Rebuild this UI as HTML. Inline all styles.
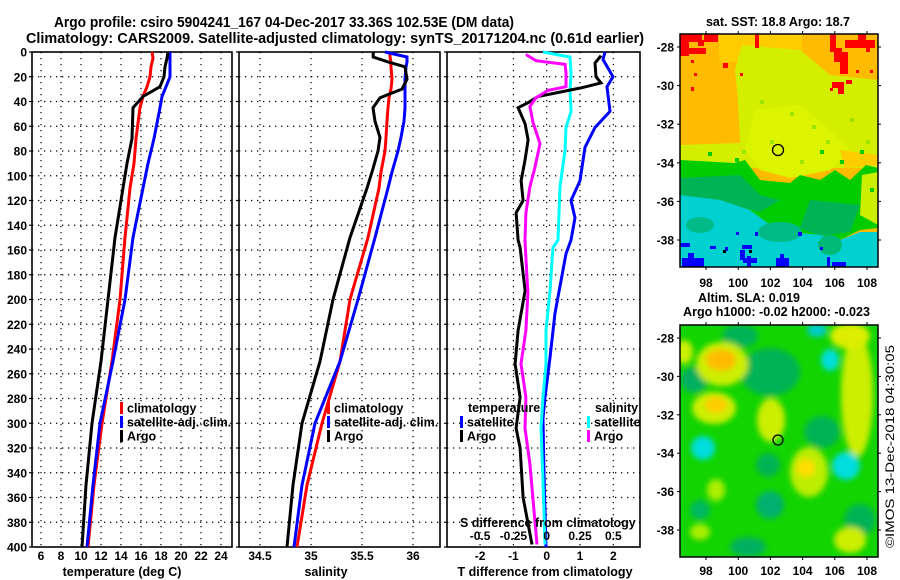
<!DOCTYPE html>
<html><head><meta charset="utf-8"><style>
html,body{margin:0;padding:0;background:#fff;}
svg{display:block;font-family:"Liberation Sans",Arial,sans-serif;font-weight:bold;}
</style></head><body>
<svg id="c" width="900" height="580" viewBox="0 0 900 580" xmlns="http://www.w3.org/2000/svg">
<defs>
<filter id="blur" x="-30%" y="-30%" width="160%" height="160%"><feGaussianBlur stdDeviation="3"/></filter>
<clipPath id="m1clip"><rect x="680" y="34" width="198" height="233"/></clipPath>
<clipPath id="m2clip"><rect x="680" y="325" width="198" height="232"/></clipPath>
</defs>
<text x="54" y="27" font-size="14.5" textLength="460" lengthAdjust="spacingAndGlyphs">Argo profile: csiro 5904241_167 04-Dec-2017 33.36S 102.53E (DM data)</text>
<text x="26" y="43" font-size="14.5" textLength="618" lengthAdjust="spacingAndGlyphs">Climatology: CARS2009. Satellite-adjusted climatology: synTS_20171204.nc (0.61d earlier)</text>

<!-- Map 1: SST -->
<g clip-path="url(#m1clip)">
<rect x="680" y="34" width="198" height="233" fill="#ffbb00"/>
<rect x="719" y="34" width="83" height="28" fill="#ffcc00"/>
<polygon fill="#d4ee00" points="742,45 800,50 830,75 878,80 878,168 680,168 680,145 740,143 738,100 735,70"/>
<polygon fill="#ddf400" points="755,110 800,105 830,130 850,150 830,170 790,178 760,170 745,150"/>
<polygon fill="#ffcc00" points="840,150 878,155 878,165 845,168"/>
<polygon fill="#00cc00" points="680,160 735,163 745,160 760,180 790,183 800,175 820,180 835,170 850,180 866,165 878,168 878,228 860,230 840,240 820,235 790,232 770,225 750,210 720,200 680,197"/>
<polygon fill="#00b455" points="680,178 740,175 760,195 780,200 760,212 720,202 680,196"/>
<polygon fill="#00b455" points="810,200 860,205 850,232 820,236 800,228"/>
<polygon fill="#ccee00" points="862,175 878,172 878,225 860,215"/>
<polygon fill="#00d0d0" points="680,195 720,200 750,210 770,225 790,232 820,235 840,240 860,232 878,232 878,267 680,267"/>
<ellipse cx="700" cy="225" rx="14" ry="8" fill="#00bb88"/>
<ellipse cx="780" cy="232" rx="22" ry="10" fill="#00bb88"/>
<ellipse cx="830" cy="245" rx="12" ry="10" fill="#00bb77"/>
<g fill="#99e600">
<rect x="760" y="100" width="4" height="4"/><rect x="790" y="112" width="4" height="4"/><rect x="812" y="125" width="4" height="4"/><rect x="770" y="140" width="4" height="4"/><rect x="826" y="140" width="4" height="4"/><rect x="800" y="160" width="4" height="4"/><rect x="742" y="150" width="4" height="4"/><rect x="850" y="118" width="4" height="4"/><rect x="866" y="140" width="4" height="4"/>
</g>
<g fill="#00cc00">
<rect x="820" y="150" width="4" height="4"/><rect x="840" y="160" width="4" height="4"/><rect x="860" y="150" width="4" height="4"/><rect x="735" y="158" width="4" height="4"/><rect x="708" y="152" width="4" height="4"/><rect x="870" y="188" width="4" height="4"/>
</g>
<g fill="#ff0000">
<rect x="680" y="34" width="22" height="8"/><rect x="680" y="40" width="9" height="16"/><rect x="686" y="48" width="20" height="6"/><rect x="704" y="34" width="14" height="8"/><rect x="698" y="40" width="6" height="6"/>
<rect x="755" y="34" width="4" height="14"/><rect x="691" y="60" width="3" height="3"/><rect x="723" y="63" width="5" height="5"/><rect x="694" y="73" width="3" height="3"/><rect x="740" y="73" width="3" height="3"/><rect x="691" y="87" width="3" height="4"/>
<rect x="830" y="34" width="6" height="18"/><rect x="834" y="48" width="8" height="14"/><rect x="840" y="52" width="8" height="22"/><rect x="845" y="40" width="30" height="8"/><rect x="858" y="34" width="8" height="6"/><rect x="866" y="46" width="4" height="6"/>
<rect x="832" y="82" width="12" height="6"/><rect x="838" y="84" width="6" height="10"/><rect x="846" y="80" width="6" height="4"/><rect x="830" y="88" width="3" height="3"/><rect x="856" y="70" width="3" height="3"/><rect x="870" y="70" width="3" height="3"/>
</g>
<g fill="#0000ff">
<rect x="680" y="243" width="10" height="4"/><rect x="682" y="258" width="22" height="9"/><rect x="688" y="253" width="6" height="5"/><rect x="710" y="246" width="6" height="3"/><rect x="725" y="247" width="3" height="4"/>
<rect x="742" y="245" width="10" height="4"/><rect x="740" y="250" width="5" height="10"/><rect x="743" y="258" width="14" height="5"/><rect x="747" y="256" width="4" height="11"/><rect x="736" y="232" width="3" height="3"/><rect x="755" y="232" width="3" height="4"/>
<rect x="776" y="258" width="13" height="9"/><rect x="780" y="254" width="4" height="5"/><rect x="798" y="232" width="4" height="4"/><rect x="820" y="247" width="3" height="3"/><rect x="827" y="257" width="3" height="10"/><rect x="832" y="262" width="14" height="5"/>
</g>
<rect x="723" y="250" width="3" height="3" fill="#000"/><rect x="749" y="250" width="3" height="3" fill="#000"/>
</g>
<rect x="680" y="34" width="198" height="233" fill="none" stroke="#000" stroke-width="1.5"/>
<circle cx="778" cy="150" r="5.5" fill="none" stroke="#000" stroke-width="1.3"/>
<text x="778" y="26" font-size="12.5" text-anchor="middle">sat. SST: 18.8 Argo: 18.7</text>

<!-- Map 2: SLA -->
<g clip-path="url(#m2clip)">
<rect x="680" y="325" width="198" height="232" fill="#11d400"/>
<g filter="url(#blur)">
<ellipse cx="770" cy="372" rx="30" ry="24" fill="#00b455"/>
<ellipse cx="740" cy="336" rx="18" ry="12" fill="#00b455"/>
<ellipse cx="694" cy="380" rx="14" ry="13" fill="#00b060"/>
<ellipse cx="770" cy="505" rx="14" ry="14" fill="#00b070"/>
<ellipse cx="748" cy="547" rx="18" ry="10" fill="#00b060"/>
<ellipse cx="822" cy="432" rx="18" ry="16" fill="#00b455"/>
<ellipse cx="768" cy="465" rx="12" ry="12" fill="#00b455"/>
<ellipse cx="860" cy="520" rx="16" ry="16" fill="#00b455"/>
<ellipse cx="700" cy="510" rx="10" ry="10" fill="#00b860"/>
<ellipse cx="722" cy="364" rx="26" ry="22" fill="#ccee00"/>
<ellipse cx="721" cy="360" rx="15" ry="11" fill="#ffbb00"/>
<ellipse cx="714" cy="408" rx="22" ry="16" fill="#ccee00"/>
<ellipse cx="716" cy="405" rx="11" ry="8" fill="#ffcc00"/>
<ellipse cx="684" cy="352" rx="9" ry="12" fill="#ccee00"/>
<ellipse cx="771" cy="420" rx="14" ry="22" fill="#ccee00"/>
<ellipse cx="857" cy="395" rx="16" ry="62" fill="#ccee00"/>
<ellipse cx="850" cy="336" rx="20" ry="13" fill="#ddee00"/>
<ellipse cx="809" cy="472" rx="19" ry="25" fill="#bbee00"/>
<ellipse cx="806" cy="468" rx="9" ry="9" fill="#ffdd00"/>
<ellipse cx="716" cy="490" rx="9" ry="11" fill="#aaee00"/>
<ellipse cx="850" cy="540" rx="16" ry="13" fill="#ccee00"/>
<ellipse cx="700" cy="532" rx="10" ry="8" fill="#aaee00"/>
<ellipse cx="703" cy="448" rx="12" ry="12" fill="#00dddd"/>
<ellipse cx="846" cy="466" rx="14" ry="14" fill="#00dddd"/>
<ellipse cx="830" cy="360" rx="9" ry="11" fill="#00dddd"/>
<ellipse cx="817" cy="330" rx="10" ry="7" fill="#00cccc"/>
</g>
</g>
<rect x="680" y="325" width="198" height="232" fill="none" stroke="#000" stroke-width="1.5"/>
<circle cx="778" cy="440" r="5" fill="none" stroke="#000" stroke-width="1.3"/>
<text x="698" y="302" font-size="12.5" textLength="102" lengthAdjust="spacingAndGlyphs">Altim. SLA: 0.019</text>
<text x="683" y="316" font-size="12.5" textLength="187" lengthAdjust="spacingAndGlyphs">Argo h1000: -0.02 h2000: -0.023</text>
<text transform="translate(894,548) rotate(-90)" font-size="12" font-weight="normal" textLength="203" lengthAdjust="spacingAndGlyphs">©IMOS 13-Dec-2018 04:30:05</text>

<g id="plots"></g>
</svg>
<script>
// ---------- data ----------
const tempDepths = [0,5,12,20,28,36,45,70,90,110,150,200,250,300,350,400];
const tempArgo   = [18.7,18.6,18.4,18.3,17.9,16.2,15.2,15.1,14.6,14.2,13.4,12.7,12.0,11.1,10.5,10.1];
const tempClim   = [17.1,17.2,17.0,16.9,16.6,16.2,15.9,15.5,15.3,14.9,14.4,13.9,13.1,12.1,11.3,10.7];
const tempSat    = [18.9,18.9,18.9,18.9,18.5,18.1,17.9,17.3,16.7,16.2,15.2,14.4,13.2,11.9,11.2,10.6];

const salDepths = [0,4,8,12,22,30,37,45,56,69,80,97,110,150,200,250,300,350,400];
const salArgo   = [35.61,35.61,35.755,35.922,35.941,35.892,35.676,35.608,35.627,35.676,35.657,35.598,35.549,35.382,35.216,35.088,34.912,34.824,34.765];
const salClim   = [35.775,35.775,35.784,35.784,35.794,35.784,35.765,35.755,35.745,35.735,35.725,35.686,35.667,35.559,35.382,35.284,35.108,34.961,34.863];
const salSat    = [35.725,35.941,35.941,35.931,35.922,35.922,35.922,35.922,35.912,35.882,35.853,35.794,35.755,35.627,35.461,35.284,35.039,34.912,34.833];

const dTSatDepths = [0,6,20,28,48,61,77,104,120,134,152,163,185,211,247,279,296,340,400];
const dTSat       = [1.75,1.69,1.99,1.81,1.90,1.45,1.15,1.00,0.73,0.85,0.73,0.58,0.43,0.25,0.10,-0.05,-0.11,-0.08,-0.02];
const dTArgoDepths = [3,9,20,25,29,36,41,45,58,71,87,104,120,130,152,158,193,225,252,279,304,320,360,398];
const dTArgo       = [1.63,1.45,1.48,1.63,1.03,-0.26,-0.56,-0.86,-0.65,-0.56,-0.65,-0.77,-0.71,-0.92,-0.86,-0.80,-0.65,-0.86,-0.95,-0.80,-0.92,-0.80,-0.71,-0.44];
const dSArgoDepths = [2,7,10,17,28,31,37,44,57,74,93,109,130,152,166,195,225,252,279,304,333,398];
const dSArgo       = [-0.156,-0.080,0.138,0.145,0.145,0.010,-0.080,-0.126,-0.103,-0.050,-0.088,-0.126,-0.156,-0.163,-0.156,-0.141,-0.156,-0.193,-0.156,-0.163,-0.126,-0.073];
const dSSatDepths = [0,4,17,31,48,61,79,109,152,158,193,225,252,279,304,347,398];
const dSSat       = [-0.028,0.175,0.183,0.175,0.183,0.145,0.138,0.100,0.085,0.047,0.025,-0.005,-0.005,-0.028,-0.043,-0.028,-0.013];

const depthTicks = [0,20,40,60,80,100,120,140,160,180,200,220,240,260,280,300,320,340,360,380,400];
const tempTicks = [6,8,10,12,14,16,18,20,22,24];
const salTicks = [34.5,35,35.5,36];
const salTickLabels = ["34.5","35","35.5","36"];
const dTTicks = [-2,-1,0,1,2];
const dSTicks = [-0.5,-0.25,0,0.25,0.5];
const dSTickLabels = ["-0.5","-0.25","0","0.25","0.5"];
const mapLatTicks = [-28,-30,-32,-34,-36,-38];
const mapLonTicks = [98,100,102,104,106,108];

// ---------- scales ----------
const NS="http://www.w3.org/2000/svg";
const root=document.getElementById('plots');
const yD = d => 52 + d*495/400;
const xT = t => 41 + (t-6)*10;
const xS = s => 260 + (s-34.5)*102;
const xdT = v => 546.7 + v*33.3;
const xdS = v => 546.7 + v*133.3;
const lat1 = l => 47 + (-28-l)*19.3;
const lat2 = l => 338 + (-28-l)*19.2;
const lonX = l => 706 + (l-98)*16.1;

function mk(tag, attrs, parent){const e=document.createElementNS(NS,tag);for(const k in attrs)e.setAttribute(k,attrs[k]);(parent||root).appendChild(e);return e;}
function txt(s,x,y,anchor,size,name){const e=mk('text',{x:x,y:y,'text-anchor':anchor,'font-size':size});e.textContent=s;


return e;}
function line(depths,vals,xf,color,name){
  const d=depths.map((dd,i)=>(i?'L':'M')+xf(vals[i]).toFixed(1)+','+yD(dd).toFixed(1)).join('');
  const p=mk('path',{d:d,fill:'none',stroke:color,'stroke-width':3,'stroke-linejoin':'miter'});
  
  
}

function panel(x0,x1,vticks,xf,labels,name){
  const g=mk('g',{});
  
  
  depthTicks.forEach(d=>{if(d>0&&d<400){const l=mk('line',{x1:x0,x2:x1,y1:yD(d),y2:yD(d),stroke:'#000','stroke-width':1.2,'stroke-dasharray':'1.3 4.7'},g);
    
    }
    mk('line',{x1:x0-3,x2:x0,y1:yD(d),y2:yD(d),stroke:'#000','stroke-width':1.2},g);});
  vticks.forEach((v,i)=>{const x=xf(v);const l=mk('line',{x1:x,x2:x,y1:52,y2:547,stroke:'#000','stroke-width':1.2,'stroke-dasharray':'1.3 4.7'},g);
    
    
    if(labels) txt(labels[i],x,560,'middle',12,'x-tick-label');});
  const r=mk('rect',{x:x0,y:52,width:x1-x0,height:495,fill:'none',stroke:'#000','stroke-width':1.6},g);
  
  
}
depthTicks.forEach(d=>txt(String(d),27,yD(d)+4.5,'end',12,'depth-tick-label'));

panel(32,232,tempTicks,xT,tempTicks.map(String),'temperature-panel');
panel(239,440,salTicks,xS,salTickLabels,'salinity-panel');
panel(447,640,dTTicks,xdT,dTTicks.map(String),'difference-panel');

line(tempDepths,tempClim,xT,'#ff0000','temperature-climatology-line');
line(tempDepths,tempSat,xT,'#0000ff','temperature-satellite-line');
line(tempDepths,tempArgo,xT,'#000000','temperature-argo-line');
line(salDepths,salClim,xS,'#ff0000','salinity-climatology-line');
line(salDepths,salSat,xS,'#0000ff','salinity-satellite-line');
line(salDepths,salArgo,xS,'#000000','salinity-argo-line');
line(dTSatDepths,dTSat,xdT,'#0000ff','t-diff-satellite-line');
line(dSSatDepths,dSSat,xdS,'#00ffff','s-diff-satellite-line');
line(dTArgoDepths,dTArgo,xdT,'#000000','t-diff-argo-line');
line(dSArgoDepths,dSArgo,xdS,'#ff00ff','s-diff-argo-line');

function leg(x,y,color,label,name){
  const r=mk('rect',{x:x,y:y-6,width:3,height:12,fill:color});
  
  
  txt(label,x+7,y+4.5,'start',12.5,name);
}
leg(120,408,'#ff0000','climatology','legend-climatology');
leg(120,422,'#0000ff','satellite-adj. clim.','legend-satellite-adj');
leg(120,436,'#000000','Argo','legend-argo');
leg(327,408,'#ff0000','climatology','legend-climatology');
leg(327,422,'#0000ff','satellite-adj. clim.','legend-satellite-adj');
leg(327,436,'#000000','Argo','legend-argo');
txt('temperature',468,412,'start',12.5,'legend-temperature-heading');
leg(460,422,'#0000ff','satellite','legend-t-satellite');
leg(460,436,'#000000','Argo','legend-t-argo');
txt('salinity',595,412,'start',12.5,'legend-salinity-heading');
leg(587,422,'#00ffff','satellite','legend-s-satellite');
leg(587,436,'#ff00ff','Argo','legend-s-argo');

txt('S difference from climatology',460,527,'start',12.5,'s-diff-axis-title');
dSTicks.forEach((v,i)=>txt(dSTickLabels[i],xdS(v),540,'middle',12,'s-diff-tick-label'));

txt('temperature (deg C)',122,576,'middle',12.5,'temperature-axis-title');
txt('salinity',326,576,'middle',12.5,'salinity-axis-title');
txt('T difference from climatology',545,576,'middle',12.5,'t-diff-axis-title');

[[lat1,34,267,287],[lat2,325,557,575]].forEach(([lf,top,bot,lab])=>{
  mapLatTicks.forEach(l=>{const y=lf(l);
    mk('line',{x1:680,x2:677,y1:y,y2:y,stroke:'#000','stroke-width':1});
    mk('line',{x1:878,x2:881,y1:y,y2:y,stroke:'#000','stroke-width':1});
    txt(String(l),674,y+4.5,'end',12,'map-lat-label');});
  mapLonTicks.forEach(l=>{const x=lonX(l);
    mk('line',{x1:x,x2:x,y1:top,y2:top-3,stroke:'#000','stroke-width':1});
    mk('line',{x1:x,x2:x,y1:bot,y2:bot+3,stroke:'#000','stroke-width':1});
    txt(String(l),x,lab,'middle',12,'map-lon-label');});
});
</script>
</body></html>
